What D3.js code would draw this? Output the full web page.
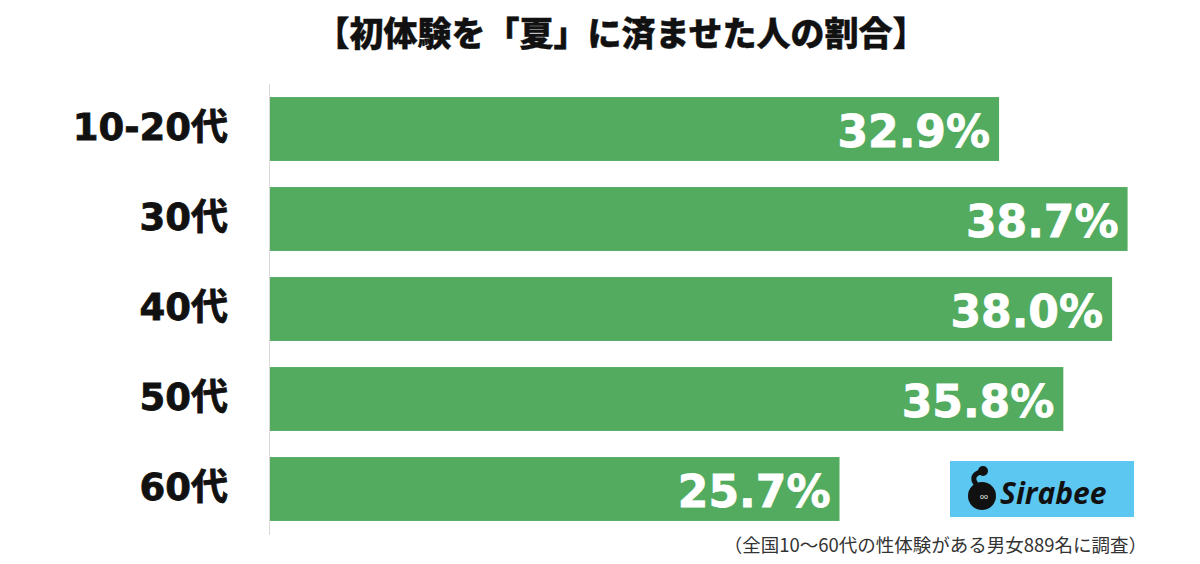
<!DOCTYPE html>
<html><head><meta charset="utf-8">
<script src="https://cdn.jsdelivr.net/npm/d3@7"></script>
<style>body{margin:0;background:#fff}svg{display:block}</style>
</head><body><svg id="c" width="1200" height="564"></svg>
<script>
const title = "【初体験を「夏」に済ませた人の割合】";
const categories = ["10-20代","30代","40代","50代","60代"];
const values = [32.9, 38.7, 38.0, 35.8, 25.7];
const valueLabels = ["32.9%","38.7%","38.0%","35.8%","25.7%"];
const footnote = "（全国10～60代の性体験がある男女889名に調査）";

const svg = d3.select("#c");
const left = 270;
const x = d3.scaleLinear().domain([0, 45]).range([left, left + 45 * 22.16]);
const y = d3.scaleBand().domain(categories).range([84, 534]).paddingInner(0.29).paddingOuter(0.145);

svg.append("text").attr("x", 621).attr("y", 46).attr("text-anchor", "middle")
  .attr("font-family", "'Noto Sans CJK JP', sans-serif").attr("font-weight", 900)
  .attr("font-size", 34).attr("fill", "#111").attr("stroke", "#111").attr("stroke-width", 0.4).text(title);

svg.append("line").attr("x1", left - 0.5).attr("x2", left - 0.5).attr("y1", 84).attr("y2", 535)
  .attr("stroke", "#d8d8d8").attr("stroke-width", 1);

svg.selectAll("rect.bar").data(values).join("rect").attr("class", "bar")
  .attr("x", x(0)).attr("y", (d, i) => y(categories[i]))
  .attr("width", d => x(d) - x(0)).attr("height", y.bandwidth())
  .attr("fill", "#52ab5f");

svg.selectAll("text.val").data(values).join("text").attr("class", "val")
  .attr("x", d => x(d) - 9).attr("y", (d, i) => y(categories[i]) + y.bandwidth() / 2 + 18)
  .attr("text-anchor", "end").attr("fill", "#fff").attr("stroke", "#fff").attr("stroke-width", 0.8)
  .attr("font-family", "'DejaVu Sans', sans-serif").attr("font-weight", "bold")
  .attr("font-size", 44).text((d, i) => valueLabels[i]);

svg.selectAll("text.cat").data(categories).join("text").attr("class", "cat")
  .attr("x", 228).attr("y", d => y(d) + y.bandwidth() / 2 + 11)
  .attr("text-anchor", "end").attr("fill", "#111").attr("stroke", "#111").attr("stroke-width", 0.8)
  .attr("font-family", "'DejaVu Sans', 'Noto Sans CJK JP', sans-serif").attr("font-weight", "bold")
  .attr("font-size", 37).text(d => d);

// logo
const g = svg.append("g");
g.append("rect").attr("x", 950).attr("y", 461).attr("width", 184).attr("height", 56).attr("fill", "#5cc8f2");
g.append("circle").attr("cx", 982).attr("cy", 496).attr("r", 14).attr("fill", "#111");
g.append("path").attr("d", "M976 484 Q970 476 980 472").attr("stroke", "#111").attr("stroke-width", 5).attr("fill", "none");
g.append("circle").attr("cx", 983).attr("cy", 471).attr("r", 5).attr("fill", "#111");
g.append("text").attr("x", 980).attr("y", 499).attr("font-size", 7).attr("fill", "#fff").attr("font-family", "sans-serif").text("oo");
g.append("text").attr("x", 1000).attr("y", 504).attr("font-family", "'Open Sans', 'Liberation Sans', sans-serif")
  .attr("font-weight", "bold").attr("font-style", "italic").attr("font-size", 30).attr("fill", "#111").text("Sirabee");

svg.append("text").attr("x", 1147).attr("y", 552).attr("text-anchor", "end")
  .attr("font-family", "'Noto Sans CJK JP', sans-serif").attr("font-size", 18.5).attr("fill", "#333").text(footnote);
</script></body></html>
